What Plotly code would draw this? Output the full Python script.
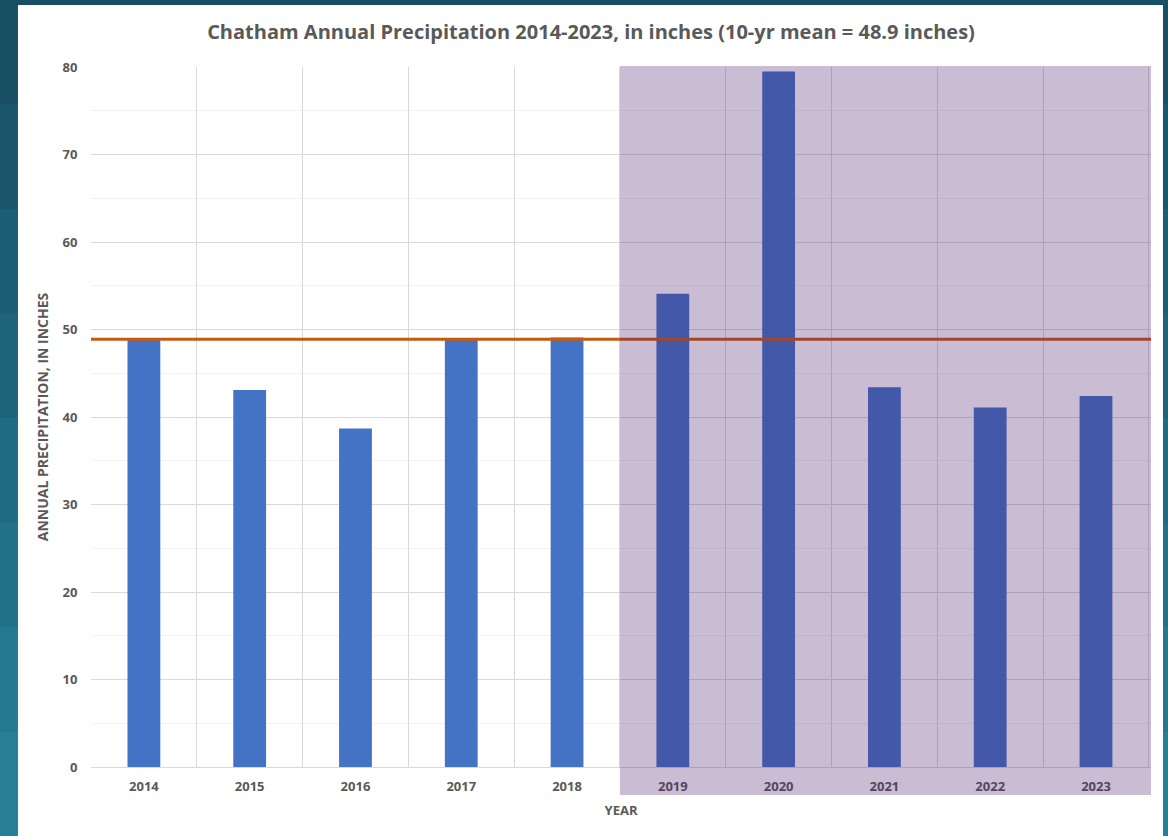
import plotly.graph_objects as go

years = ["2014", "2015", "2016", "2017", "2018", "2019", "2020", "2021", "2022", "2023"]
precip = [48.8, 43.1, 38.7, 49.0, 49.1, 54.1, 79.5, 43.4, 41.1, 42.4]
mean_10yr = 48.9
highlight_years = ["2019", "2023"]

grey = "#595959"
font_family = "Open Sans, Noto Sans, sans-serif"

fig = go.Figure()

fig.add_trace(go.Bar(
    x=years,
    y=precip,
    width=0.31,
    marker=dict(color="#4472C4", line=dict(width=0)),
    hovertemplate="%{x}: %{y:.1f} in<extra></extra>",
))

# teal backdrop, darker at the top
teal_bands = ["#184F64", "#1A566B", "#1B5D72", "#1D6479", "#1F6B81", "#217289", "#247990", "#267F97"]
band_top, band_bottom = 1 + 67 / 700, -69 / 700
step = (band_top - band_bottom) / len(teal_bands)
for i, c in enumerate(teal_bands):
    fig.add_shape(type="rect", xref="paper", yref="paper",
                  x0=-91 / 1060, x1=1 + 17 / 1060,
                  y0=band_top - (i + 1) * step, y1=band_top - i * step,
                  fillcolor=c, line=dict(width=0), layer="below")

# white chart card
fig.add_shape(type="rect", xref="paper", yref="paper",
              x0=-0.0689, x1=1.0113, y0=-0.0986, y1=1.0886,
              fillcolor="white", line=dict(width=0), layer="below")

# 10-yr mean line
fig.add_shape(type="line", xref="paper", yref="y",
              x0=0, x1=1, y0=mean_10yr, y1=mean_10yr,
              line=dict(color="#C55A11", width=3), layer="above")

# shaded recent years
fig.add_shape(type="rect", xref="x", yref="paper",
              x0=years.index(highlight_years[0]) - 0.5,
              x1=years.index(highlight_years[1]) + 0.52,
              y0=-0.04, y1=1.0015,
              fillcolor="rgba(68,25,104,0.29)", line=dict(width=0), layer="above")

fig.update_layout(
    width=1168,
    height=836,
    margin=dict(l=91, r=17, t=67, b=69),
    paper_bgcolor="#1E6479",
    plot_bgcolor="rgba(0,0,0,0)",
    showlegend=False,
    font=dict(family=font_family, color=grey),
    title=dict(
        text="<b>Chatham Annual Precipitation 2014-2023, in inches (10-yr mean = 48.9 inches)</b>",
        x=591 / 1168, xanchor="center",
        y=1 - 32 / 836, yanchor="middle", yref="container",
        font=dict(size=20, color=grey, family=font_family),
    ),
    xaxis=dict(
        type="category",
        tickson="boundaries",
        showgrid=True,
        gridcolor="#D9D9D9",
        gridwidth=1,
        showline=True,
        linecolor="#D9D9D9",
        linewidth=1,
        ticks="",
        ticklabelstandoff=7,
        tickfont=dict(size=13, color=grey),
        tickprefix="<b>", ticksuffix="</b>",
        title=dict(text="<b>YEAR</b>", font=dict(size=13, color=grey), standoff=12),
        fixedrange=True,
    ),
    yaxis=dict(
        range=[0, 80],
        dtick=10,
        showgrid=True,
        gridcolor="#D9D9D9",
        gridwidth=1,
        minor=dict(dtick=5, showgrid=True, gridcolor="#F2F2F2", gridwidth=1),
        zeroline=False,
        showline=False,
        ticks="outside",
        ticklen=10,
        tickcolor="rgba(0,0,0,0)",
        tickfont=dict(size=13, color=grey),
        tickprefix="<b>", ticksuffix="</b>",
        title=dict(text="<b>ANNUAL PRECIPITATION, IN INCHES</b>",
                   font=dict(size=14, color=grey), standoff=10),
        fixedrange=True,
    ),
)

fig.write_html("out.html", config={"displayModeBar": False},
               post_script="document.body.style.margin='0';")
